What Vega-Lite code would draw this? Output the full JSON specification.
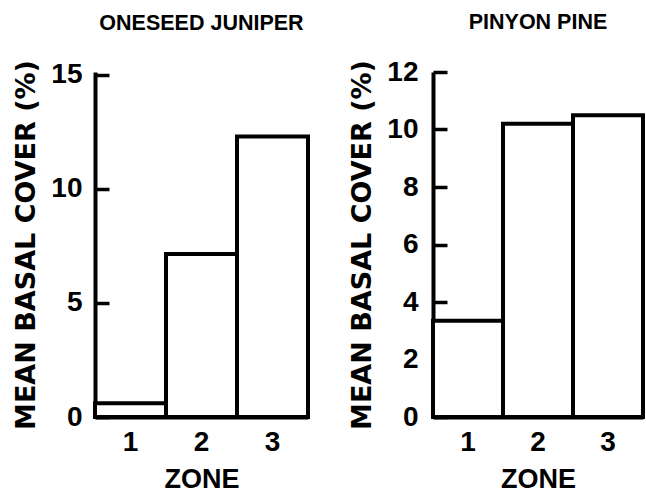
{
  "$schema": "https://vega.github.io/schema/vega-lite/v6.json",
  "padding": {"left": 12, "top": 11, "right": 0, "bottom": 0},
  "background": "white",
  "spacing": 38,
  "config": {
    "view": {"stroke": null},
    "font": "Liberation Sans",
    "title": {"font": "Liberation Sans", "fontSize": 21.5, "fontWeight": "bold", "color": "black", "frame": "group", "anchor": "middle"},
    "axis": {
      "domainColor": "black", "domainWidth": 4, "tickColor": "black", "tickWidth": 3.5,
      "labelColor": "black", "labelFont": "Liberation Sans", "labelFontWeight": "bold", "labelFontSize": 28,
      "titleColor": "black", "titleFontWeight": "bold", "grid": false
    }
  },
  "hconcat": [
    {
      "width": 213, "height": 345,
      "title": {"text": "ONESEED JUNIPER", "offset": 25},
      "data": {"values": [
        {"zone": "1", "cover": 0.6},
        {"zone": "2", "cover": 7.15},
        {"zone": "3", "cover": 12.3}
      ]},
      "mark": {"type": "bar", "fill": "white", "stroke": "black", "strokeWidth": 4},
      "encoding": {
        "x": {"field": "zone", "type": "nominal", "scale": {"paddingInner": 0, "paddingOuter": 0},
              "axis": {"labelAngle": 0, "ticks": false, "labelPadding": 11, "title": "ZONE", "titleFont": "Liberation Sans", "titleFontSize": 27, "titlePadding": 10}},
        "y": {"field": "cover", "type": "quantitative", "scale": {"domain": [0, 15.13], "nice": false},
              "axis": {"values": [0, 5, 10, 15], "tickSize": -14, "labelPadding": 27, "title": "MEAN BASAL COVER (%)", "titleFont": "DejaVu Sans", "titleFontSize": 27, "titlePadding": 10}}
      }
    },
    {
      "width": 210, "height": 345,
      "title": {"text": "PINYON PINE", "offset": 25},
      "data": {"values": [
        {"zone": "1", "cover": 3.35},
        {"zone": "2", "cover": 10.2},
        {"zone": "3", "cover": 10.5}
      ]},
      "mark": {"type": "bar", "fill": "white", "stroke": "black", "strokeWidth": 4},
      "encoding": {
        "x": {"field": "zone", "type": "nominal", "scale": {"paddingInner": 0, "paddingOuter": 0},
              "axis": {"labelAngle": 0, "ticks": false, "labelPadding": 11, "title": "ZONE", "titleFont": "Liberation Sans", "titleFontSize": 27, "titlePadding": 10}},
        "y": {"field": "cover", "type": "quantitative", "scale": {"domain": [0, 12]},
              "axis": {"values": [0, 2, 4, 6, 8, 10, 12], "tickSize": -14, "labelPadding": 29, "title": "MEAN BASAL COVER (%)", "titleFont": "DejaVu Sans", "titleFontSize": 27, "titlePadding": 10}}
      }
    }
  ]
}
